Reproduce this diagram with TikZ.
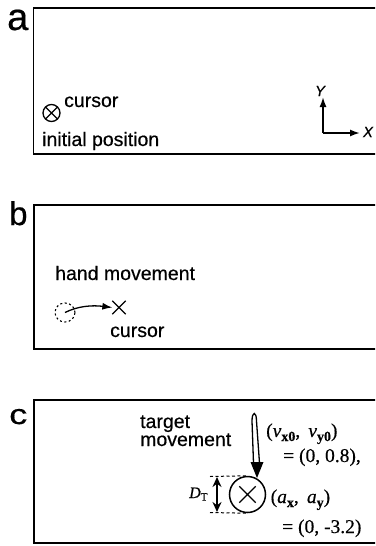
\documentclass[tikz,border=0pt]{standalone}
\usepackage{fontspec}
\setmainfont{Liberation Serif}
\setsansfont{Liberation Sans}
\newfontfamily\heavysans{Liberation Sans}[FakeBold=0.5]
\newfontfamily\heavyserif{Liberation Serif}[FakeBold=0.4]
\usetikzlibrary{arrows.meta,shapes.geometric,shapes.misc}

\newcommand{\subfig}[1]{\raisebox{-4pt}{\fontsize{14}{14}\selectfont\bfseries #1}}

\begin{document}
\begin{tikzpicture}[x=1pt,y=-1pt,
  panel/.style={draw,line width=1.6pt},
  paneltag/.style={font=\heavysans\fontsize{#1}{#1}\selectfont,inner sep=0pt,anchor=base west},
  lbl/.style={font=\heavysans\fontsize{19.5}{22}\selectfont,inner sep=0pt,anchor=base west},
  axlbl/.style={font=\heavysans\itshape\fontsize{15}{15}\selectfont,inner sep=0pt},
  mathlbl/.style={font=\heavyserif\fontsize{19.5}{22}\selectfont,inner sep=0pt,anchor=base west},
  otimes/.style={circle,draw,line width=1.3pt,minimum size=17pt,inner sep=0pt,
                 path picture={\draw[line width=1.3pt]
                   (path picture bounding box.north west) -- (path picture bounding box.south east)
                   (path picture bounding box.north east) -- (path picture bounding box.south west);}},
  xmark/.style={cross out,draw,line width=1.3pt,minimum size=#1,inner sep=0pt},
  arr/.style={-{Latex[length=10pt,width=7pt]},line width=1.7pt}]
  \useasboundingbox (0,0) rectangle (375,546);
  \clip (0,0) rectangle (375,546);

  % panel a
  \draw[panel] (33.5,8) rectangle (390,154);
  \node[paneltag=38] (la) at (7,30) {a};
  \node[otimes] (cur) at (51.5,113) {};
  \node[lbl] (curlab) at (64,107) {cursor};
  \node[lbl] (init) at (42,146) {initial position};
  \coordinate (org) at (323,133);
  \coordinate (yend) at (323,97);
  \coordinate (xend) at (360,133);
  \draw[arr] (org) -- (yend);
  \draw[arr] (org) -- (xend);
  \node[axlbl] (ylab) at (320,91) {Y};
  \node[axlbl] (xlab) at (368,132) {X};

  % panel b
  \draw[panel] (34,205) rectangle (390,349);
  \node[paneltag=33] (lb) at (9,225) {b};
  \node[lbl] (hm) at (55,280) {hand movement};
  \node[ellipse,draw,line width=1.1pt,dash pattern=on 2pt off 2.5pt,
        minimum width=20pt,minimum height=19pt,inner sep=0pt] (hand) at (65,312.5) {};
  \node[xmark=12pt] (bx) at (119,307.5) {};
  \draw[arr,line width=1.3pt] (hand.center) .. controls (78,306) and (92,305) .. (bx.west);
  \node[lbl] (bcur) at (110,337) {cursor};

  % panel c
  \draw[panel] (34,400) rectangle (390,543);
  \node[paneltag=28,xscale=1.3] (lc) at (9,424) {c};
  \node[lbl] (tg) at (140,428) {target};
  \node[lbl] (mv) at (140,446) {movement};
  \node[circle,draw,line width=1.5pt,minimum size=36pt,inner sep=0pt] (tgt) at (247.5,494.5) {};
  \node[xmark=15pt] (tx) at (tgt.center) {};
  \coordinate (mtip) at (257,478);
  \fill (mtip) -- ++(-6.5,-16) -- ++(13,0) -- cycle;
  \draw[line width=1.3pt] (253.5,463) -- (252,421) .. controls (252,411) and (256.5,411) .. (256.5,421) -- (259.5,463);
  \coordinate (dl1) at (210,476.5);
  \coordinate (dl2) at (210,512.5);
  \draw[dashed,dash pattern=on 3pt off 2.5pt,line width=1pt] (dl1) -- (tgt.north);
  \draw[dashed,dash pattern=on 3pt off 2.5pt,line width=1pt] (dl2) -- (tgt.south);
  \coordinate (da) at (217,477);
  \coordinate (db) at (217,512);
  \draw[{Stealth[length=10pt,width=9pt]}-{Stealth[length=10pt,width=9pt]},line width=1.6pt] (da) -- (db);
  \node[mathlbl,font=\heavyserif\fontsize{16}{16}\selectfont] (dt) at (189,498) {\textit{D}\textsubscript{T}};
  \node[mathlbl] (vel) at (266,437) {(\textit{v}\subfig{x0}, \,\textit{v}\subfig{y0})};
  \node[mathlbl] (velv) at (283,462) {= (0, 0.8),};
  \node[mathlbl] (acc) at (270.5,503) {(\textit{a}\subfig{x}, \,\textit{a}\subfig{y})};
  \node[mathlbl] (accv) at (282,533) {= (0, -3.2)};
\end{tikzpicture}
\end{document}
